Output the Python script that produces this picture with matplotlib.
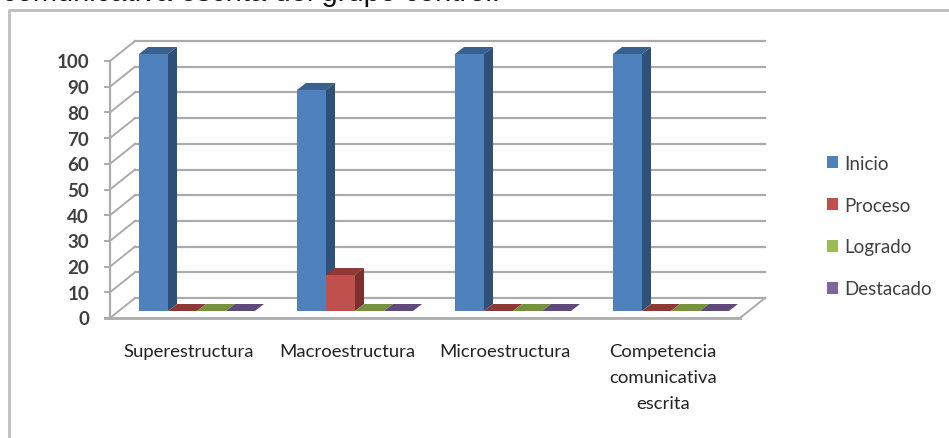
import matplotlib
matplotlib.use("Agg")
import matplotlib.pyplot as plt
from matplotlib.patches import Polygon, Patch

categories = ["Superestructura", "Macroestructura", "Microestructura",
              "Competencia\ncomunicativa\nescrita"]
series_names = ["Inicio", "Proceso", "Logrado", "Destacado"]
inicio = [100, 86, 100, 100]
proceso = [0, 14, 0, 0]
logrado = [0, 0, 0, 0]
destacado = [0, 0, 0, 0]
yticks = [0, 10, 20, 30, 40, 50, 60, 70, 80, 90, 100]

front = ["#4F81BD", "#C0504D", "#9BBB59", "#8064A2"]
side = ["#2F5078", "#7B302E", "#63782F", "#503E68"]
top = ["#38618F", "#8F3836", "#76923C", "#5F4A7B"]

W, H = 949, 439
PX_X = 158.0   # pixels per category
PX_Y = 2.57    # pixels per percent
X0, Y0 = 139, 312  # pixel of first bar base

fig = plt.figure(figsize=(W / 100, H / 100), dpi=100)
ax = fig.add_axes([0, 0, 1, 1])
ax.set_xlim(-X0 / PX_X, (W - X0) / PX_X)
ax.set_ylim((Y0 - H) / PX_Y, Y0 / PX_Y)
ax.axis("off")


def dx(px):
    return px / PX_X


def dy(px):
    return px / PX_Y


grid = "#ABABAB"
# back wall and side wall lines
wall_dx, wall_dy = dx(-4), dy(13)
front_x, front_dy = dx(-29), dy(-7)
right_back = dx(765 - X0)
for v in yticks:
    ax.plot([wall_dx, right_back], [v + wall_dy, v + wall_dy], color=grid, lw=1.6, zorder=1)
    ax.plot([front_x, wall_dx], [v + front_dy, v + wall_dy], color=grid, lw=1.4, zorder=1)
    ax.plot([front_x - dx(5), front_x], [v + front_dy, v + front_dy], color=grid, lw=1.4, zorder=1)
    ax.text(dx(89 - X0), v + dy(-8), str(v), ha="right", va="center",
            fontsize=13.5, family="Lato", color="#404040", fontweight="bold")
ax.plot([front_x, front_x], [front_dy, 100 + front_dy], color=grid, lw=1.6, zorder=1)
# floor
ax.plot([front_x - dx(5), dx(740 - X0)], [front_dy, front_dy], color=grid, lw=2, zorder=1)
ax.plot([dx(740 - X0), right_back], [front_dy, wall_dy], color=grid, lw=1.4, zorder=1)

bw = 29 / PX_X
depth_x, depth_y = dx(9), dy(7)
all_series = [inicio, proceso, logrado, destacado]
for j, vals in enumerate(all_series):
    xs = [i + j * bw for i in range(len(categories))]
    bars = ax.bar(xs, vals, width=bw, align="edge", color=front[j], zorder=3 + j)
    for b in bars:
        x, w, h = b.get_x(), b.get_width(), b.get_height()
        ax.add_patch(Polygon([(x, h), (x + w, h), (x + w + depth_x, h + depth_y), (x + depth_x, h + depth_y)],
                             closed=True, fc=top[j], ec="none", zorder=3 + j))
        if h > 0:
            ax.add_patch(Polygon([(x + w, 0), (x + w + depth_x, depth_y), (x + w + depth_x, h + depth_y), (x + w, h)],
                                 closed=True, fc=side[j], ec="none", zorder=3 + j))

for i, c in enumerate(categories):
    ax.text(i + dx(50), dy(-32), c, ha="center", va="top", fontsize=13.3, family="Lato",
            color="#222222", linespacing=1.78)

handles = [Patch(fc=front[j], label=series_names[j]) for j in range(4)]
ax.legend(handles=handles, loc="center left", bbox_to_anchor=(827 / W, 1 - 227 / H), frameon=False,
          prop={"family": "Lato", "size": 13.5}, handlelength=0.6, handleheight=0.6,
          labelspacing=1.33, handletextpad=0.3, labelcolor="#404040", borderpad=0, borderaxespad=0)

# chart frame, only top and left edges show
ax.plot([dx(9 - X0), dx(9 - X0), dx(W - X0)],
        [(Y0 - H) / PX_Y, dy(Y0 - 10.5), dy(Y0 - 10.5)], color="#BDBDBD", lw=2, zorder=0)

# heading cut off by the top edge
ax.text(dx(2 - X0), dy(Y0 - 1), "comunicativa escrita del grupo control.", ha="left", va="baseline",
        fontsize=21, family="Liberation Sans", color="#111111", clip_on=True)

fig.savefig("out.png", dpi=100)
